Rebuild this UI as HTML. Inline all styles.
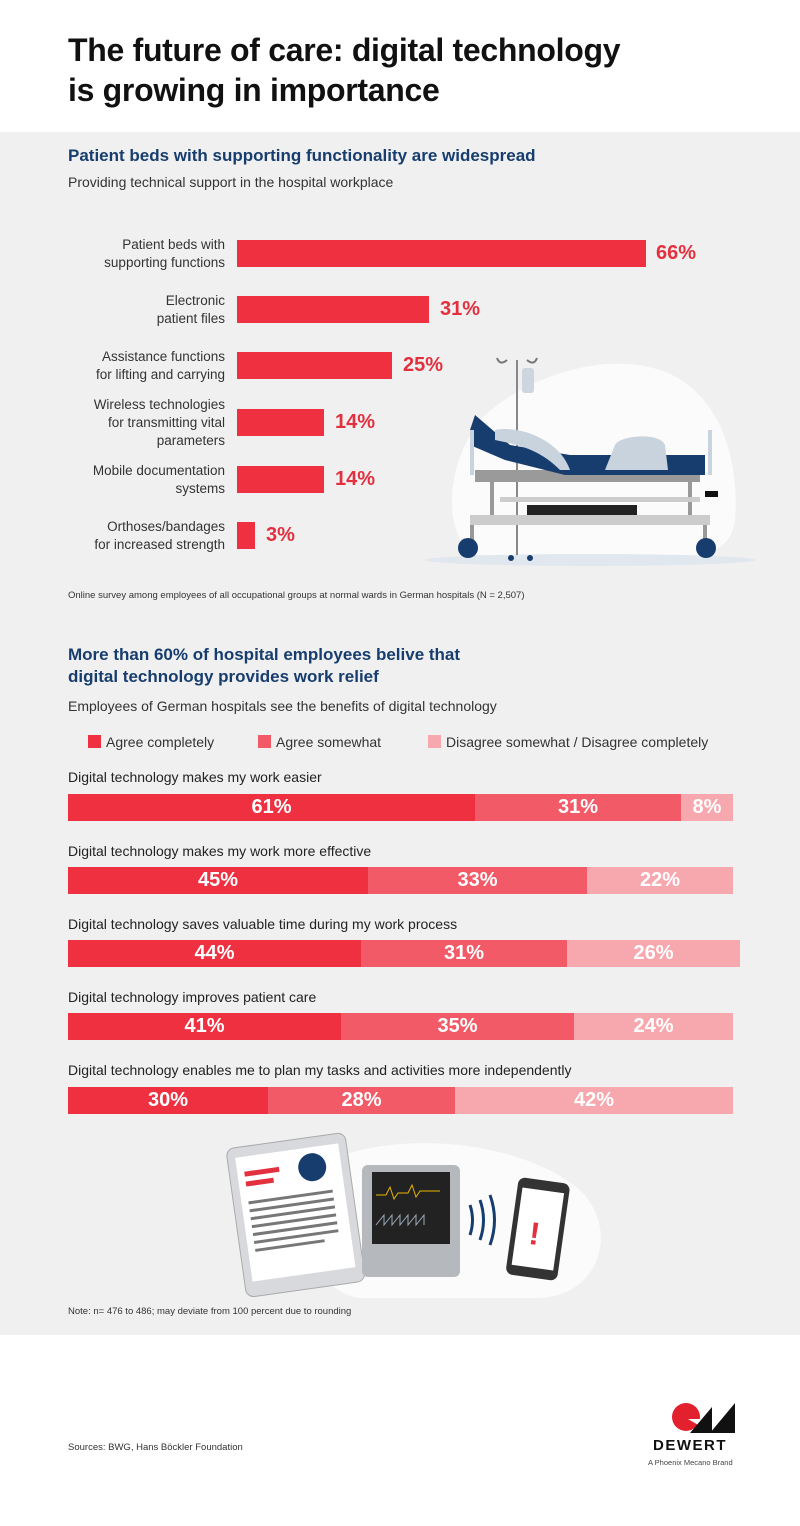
<!DOCTYPE html>
<html><head><meta charset="utf-8"><style>
*{margin:0;padding:0;box-sizing:border-box}
body{width:800px;height:1526px;background:#fff;font-family:"Liberation Sans",sans-serif;position:relative;overflow:hidden;color:#222}
.a{position:absolute;white-space:nowrap}
.gray{position:absolute;left:0;top:132px;width:800px;height:1203px;background:#f0f0f0}
h1{position:absolute;left:68px;top:30px;font-size:32px;line-height:40px;font-weight:bold;color:#111;letter-spacing:-0.3px}
.st{font-size:17px;font-weight:bold;color:#173d6e;line-height:22px}
.sub{font-size:14px;color:#333}
.lab{position:absolute;right:575px;text-align:right;font-size:13.5px;line-height:18px;color:#333;white-space:nowrap}
.bar{position:absolute;left:237px;height:27px;background:#ee3040}
.val{position:absolute;font-size:20px;font-weight:bold;color:#e3303e}
.seg{position:absolute;height:27px;color:#fff;font-weight:bold;font-size:20px;line-height:27px;text-align:center}
.c1{background:#ee3040}.c2{background:#f25a67}.c3{background:#f7a8ae}
.rl{position:absolute;left:68px;font-size:14px;color:#222}
</style></head><body>
<h1>The future of care: digital technology<br>is growing in importance</h1>
<div class="gray"></div>
<div class="a st" style="left:68px;top:145px">Patient beds with supporting functionality are widespread</div>
<div class="a sub" style="left:68px;top:174px">Providing technical support in the hospital workplace</div>

<div class="lab" style="top:236px">Patient beds with<br>supporting functions</div>
<div class="bar" style="top:240px;width:409px"></div><div class="val" style="left:656px;top:242px">66%</div>
<div class="lab" style="top:292px">Electronic<br>patient files</div>
<div class="bar" style="top:296px;width:192px"></div><div class="val" style="left:440px;top:298px">31%</div>
<div class="lab" style="top:348px">Assistance functions<br>for lifting and carrying</div>
<div class="bar" style="top:352px;width:155px"></div><div class="val" style="left:403px;top:354px">25%</div>
<div class="lab" style="top:396px">Wireless technologies<br>for transmitting vital<br>parameters</div>
<div class="bar" style="top:409px;width:87px"></div><div class="val" style="left:335px;top:411px">14%</div>
<div class="lab" style="top:462px">Mobile documentation<br>systems</div>
<div class="bar" style="top:466px;width:87px"></div><div class="val" style="left:335px;top:468px">14%</div>
<div class="lab" style="top:518px">Orthoses/bandages<br>for increased strength</div>
<div class="bar" style="top:522px;width:18px"></div><div class="val" style="left:266px;top:524px">3%</div>

<svg class="a" style="left:420px;top:345px" width="340" height="225" viewBox="420 345 340 225">
<path d="M480 420 C520 380 600 350 660 370 C720 390 740 460 735 520 C730 555 700 560 650 555 L470 555 C440 520 450 460 480 420Z" fill="#fbfbfb"/>
<ellipse cx="590" cy="560" rx="165" ry="6" fill="#e1e7ee"/>
<line x1="517" y1="360" x2="517" y2="555" stroke="#888" stroke-width="2"/>
<path d="M497 358 q3 8 10 2 M527 360 q7 6 10 -2" stroke="#777" fill="none" stroke-width="2"/>
<rect x="522" y="368" width="12" height="25" rx="3" fill="#cdd5de"/>
<rect x="475" y="470" width="225" height="12" fill="#9a9a9a"/>
<path d="M470 430 L475 415 L510 445 L570 455 L705 455 L705 475 L565 475 L505 460 L470 445Z" fill="#173d6e"/>
<path d="M495 430 C520 425 560 440 570 470 L560 470 C540 450 520 445 495 440Z" fill="#c9d3dd"/>
<path d="M615 445 C620 435 660 432 665 445 L668 470 L605 470Z" fill="#c9d3dd"/>
<rect x="470" y="430" width="4" height="45" fill="#c9d3dd"/><rect x="708" y="430" width="4" height="45" fill="#c9d3dd"/>
<rect x="490" y="482" width="4" height="35" fill="#999"/><rect x="688" y="482" width="4" height="35" fill="#999"/>
<rect x="500" y="497" width="200" height="5" fill="#ccc"/>
<rect x="705" y="491" width="13" height="6" fill="#111"/>
<rect x="527" y="505" width="110" height="10" fill="#222"/>
<rect x="470" y="515" width="240" height="10" fill="#ccc"/>
<rect x="470" y="525" width="4" height="20" fill="#999"/><rect x="703" y="525" width="4" height="20" fill="#999"/>
<circle cx="468" cy="548" r="10" fill="#173d6e"/><circle cx="706" cy="548" r="10" fill="#173d6e"/>
<circle cx="511" cy="558" r="3" fill="#173d6e"/><circle cx="530" cy="558" r="3" fill="#173d6e"/>
</svg>

<div class="a" style="left:68px;top:590px;font-size:9.5px;color:#333">Online survey among employees of all occupational groups at normal wards in German hospitals (N = 2,507)</div>

<div class="a st" style="left:68px;top:644px">More than 60% of hospital employees belive that<br>digital technology provides work relief</div>
<div class="a sub" style="left:68px;top:698px">Employees of German hospitals see the benefits of digital technology</div>
<div class="a" style="left:88px;top:735px;width:13px;height:13px;background:#ee3040"></div>
<div class="a sub" style="left:106px;top:734px">Agree completely</div>
<div class="a" style="left:258px;top:735px;width:13px;height:13px;background:#f25a67"></div>
<div class="a sub" style="left:276px;top:734px">Agree somewhat</div>
<div class="a" style="left:428px;top:735px;width:13px;height:13px;background:#f7a8ae"></div>
<div class="a sub" style="left:446px;top:734px">Disagree somewhat / Disagree completely</div>

<div class="rl" style="top:769px">Digital technology makes my work easier</div>
<div class="seg c1" style="top:794px;left:68px;width:407px">61%</div><div class="seg c2" style="top:794px;left:475px;width:206px">31%</div><div class="seg c3" style="top:794px;left:681px;width:52px">8%</div>
<div class="rl" style="top:843px">Digital technology makes my work more effective</div>
<div class="seg c1" style="top:867px;left:68px;width:300px">45%</div><div class="seg c2" style="top:867px;left:368px;width:219px">33%</div><div class="seg c3" style="top:867px;left:587px;width:146px">22%</div>
<div class="rl" style="top:916px">Digital technology saves valuable time during my work process</div>
<div class="seg c1" style="top:940px;left:68px;width:293px">44%</div><div class="seg c2" style="top:940px;left:361px;width:206px">31%</div><div class="seg c3" style="top:940px;left:567px;width:173px">26%</div>
<div class="rl" style="top:989px">Digital technology improves patient care</div>
<div class="seg c1" style="top:1013px;left:68px;width:273px">41%</div><div class="seg c2" style="top:1013px;left:341px;width:233px">35%</div><div class="seg c3" style="top:1013px;left:574px;width:159px">24%</div>
<div class="rl" style="top:1062px">Digital technology enables me to plan my tasks and activities more independently</div>
<div class="seg c1" style="top:1087px;left:68px;width:200px">30%</div><div class="seg c2" style="top:1087px;left:268px;width:187px">28%</div><div class="seg c3" style="top:1087px;left:455px;width:278px">42%</div>

<svg class="a" style="left:220px;top:1125px" width="400" height="180" viewBox="220 1125 400 180">
<path d="M330 1160 C400 1130 520 1140 580 1190 C620 1230 600 1295 540 1298 L360 1298 C300 1290 290 1190 330 1160Z" fill="#fbfbfb"/>
<g transform="rotate(-8 295 1210)"><rect x="235" y="1140" width="120" height="150" rx="8" fill="#d7d9dc" stroke="#aaa"/><rect x="243" y="1150" width="104" height="125" fill="#fff"/>
<rect x="250" y="1165" width="35" height="5" fill="#e3303e"/><rect x="250" y="1175" width="28" height="5" fill="#e3303e"/>
<circle cx="318" cy="1170" r="14" fill="#173d6e"/>
<g fill="#777"><rect x="250" y="1195" width="85" height="3"/><rect x="250" y="1203" width="85" height="3"/><rect x="250" y="1211" width="85" height="3"/><rect x="250" y="1219" width="85" height="3"/><rect x="250" y="1227" width="85" height="3"/><rect x="250" y="1235" width="85" height="3"/><rect x="250" y="1243" width="70" height="3"/></g></g>
<rect x="362" y="1165" width="98" height="112" rx="6" fill="#b5b8bc"/><rect x="372" y="1172" width="78" height="72" fill="#222"/>
<path d="M376 1195 l10 0 l4 -8 l4 12 l4 -6 h10 l4 -8 l4 12 l4 -6 h20" stroke="#e8b400" fill="none"/>
<path d="M376 1225 l8 -10 l0 10 l8 -10 l0 10 l8 -10 l0 10 l8 -10 l0 10 l8 -10 l0 10 l8 -10 l0 10" stroke="#9ab" fill="none"/>
<path d="M470 1205 q5 15 0 30 M480 1200 q7 20 0 40 M490 1195 q9 25 0 50" stroke="#173d6e" stroke-width="3" fill="none"/>
<g transform="rotate(8 538 1228)"><rect x="512" y="1180" width="52" height="98" rx="7" fill="#333"/><rect x="517" y="1190" width="42" height="78" fill="#fff"/><text x="530" y="1245" font-size="32" font-weight="bold" fill="#e3303e" font-family="Liberation Sans">!</text></g>
</svg>

<div class="a" style="left:68px;top:1306px;font-size:9.5px;color:#333">Note: n= 476 to 486; may deviate from 100 percent due to rounding</div>
<div class="a" style="left:68px;top:1442px;font-size:9.5px;color:#333">Sources: BWG, Hans Böckler Foundation</div>

<svg class="a" style="left:670px;top:1402px" width="66" height="31" viewBox="0 0 66 31">
<circle cx="16" cy="15" r="14" fill="#e3202e"/><path d="M18 17 L30 17 L30 24 Z" fill="#fff"/>
<path d="M20 31 L42 5 L42 31Z M40 31 L65 1 L65 31Z" fill="#111"/>
</svg>
<div class="a" style="left:653px;top:1437px;font-size:15px;font-weight:bold;letter-spacing:1.5px;color:#111">DEWERT</div>
<div class="a" style="left:648px;top:1458px;font-size:7.5px;color:#444">A Phoenix Mecano Brand</div>
</body></html>
